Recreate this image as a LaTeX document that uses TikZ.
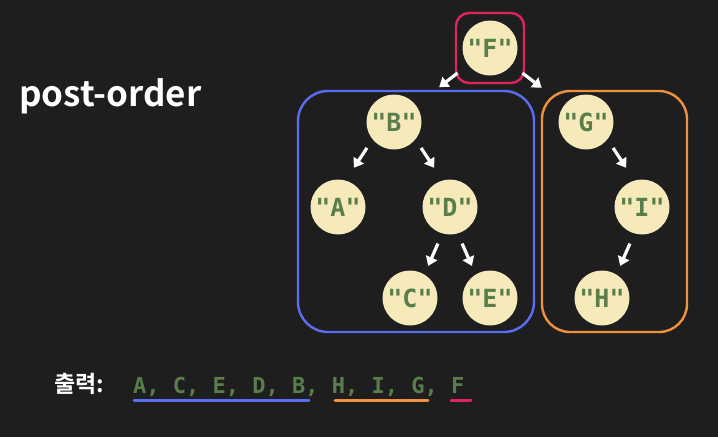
\documentclass[tikz,border=0pt]{standalone}
\usepackage{fontspec}
\usetikzlibrary{arrows.meta}
\newfontfamily\monofnt{DejaVu Sans Mono}
\newfontfamily\krfnt{Noto Sans CJK KR}[BoldFont={Noto Sans CJK KR Bold}]
\definecolor{bgc}{HTML}{1E1E1E}
\definecolor{nodefill}{HTML}{F6EABB}
\definecolor{txtgreen}{HTML}{5A7D4C}
\definecolor{boxblue}{HTML}{5A6EF2}
\definecolor{boxorange}{HTML}{F0913D}
\definecolor{boxred}{HTML}{E1245C}
\begin{document}
\begin{tikzpicture}[x=1pt,y=-1pt,
  treenode/.style={circle, fill=nodefill, minimum size=55pt, inner sep=0pt,
    text=txtgreen, font=\monofnt\bfseries\fontsize{25}{25}\selectfont},
  arr/.style={-{Triangle[length=9pt,width=12pt]}, line width=3.2pt, white},
  grp/.style={line width=2.4pt},
  uline/.style={line width=3pt, line cap=round}]
\fill[bgc] (0,0) rectangle (718,437);
\useasboundingbox (0,0) rectangle (718,437);

% group boxes
\draw[grp, boxred, rounded corners=13pt] (456,13) rectangle (524,83);
\draw[grp, boxblue, rounded corners=30pt] (298,91) rectangle (534,332);
\draw[grp, boxorange, rounded corners=28pt] (542,91) rectangle (687,332);

% nodes
\node[treenode] (F) at (490,48) {"F"};
\node[treenode] (B) at (394,122) {"B"};
\node[treenode] (G) at (586,122) {"G"};
\node[treenode] (A) at (338,207) {"A"};
\node[treenode] (D) at (450,207) {"D"};
\node[treenode] (I) at (642,207) {"I"};
\node[treenode] (C) at (410,298) {"C"};
\node[treenode] (E) at (490,298) {"E"};
\node[treenode] (H) at (602,298) {"H"};

% arrows
\draw[arr, shorten <=41pt, shorten >=57pt] (F.center) -- (B.center);
\draw[arr, shorten <=41pt, shorten >=56pt] (F.center) -- (G.center);
\draw[arr, shorten <=31pt, shorten >=47pt] ([xshift=-10pt]B.center) -- ([xshift=-10pt]A.center);
\draw[arr, shorten <=31pt, shorten >=47pt] ([xshift=10pt]B.center) -- ([xshift=10pt]D.center);
\draw[arr, shorten <=31pt, shorten >=47pt] ([xshift=10pt]G.center) -- ([xshift=10pt]I.center);
\draw[arr, shorten <=40pt, shorten >=35pt] ([xshift=4pt]D.center) -- ([xshift=4pt]C.center);
\draw[arr, shorten <=40pt, shorten >=35pt] ([xshift=-4pt]D.center) -- ([xshift=-4pt]E.center);
\draw[arr, shorten <=40pt, shorten >=35pt] ([xshift=4pt]I.center) -- ([xshift=4pt]H.center);

% title
\node[anchor=base west, inner sep=0pt, text=white, font=\krfnt\bfseries\fontsize{35}{35}\selectfont] (title) at (19,106) {post-order};

% output line
\node[anchor=base west, inner sep=0pt, text=white, font=\krfnt\bfseries\fontsize{23}{23}\selectfont] (outlbl) at (54,392) {출력:};
\node[anchor=base west, inner sep=0pt, text=txtgreen, font=\monofnt\bfseries\fontsize{22}{22}\selectfont] (outtxt) at (133,393) {A, C, E, D, B, H, I, G, F};

\coordinate (u1a) at (134,400); \coordinate (u1b) at (309,400);
\coordinate (u2a) at (335,400); \coordinate (u2b) at (428,400);
\coordinate (u3a) at (451,400); \coordinate (u3b) at (471,400);
\draw[uline, boxblue] (u1a) -- (u1b);
\draw[uline, boxorange] (u2a) -- (u2b);
\draw[uline, boxred] (u3a) -- (u3b);
\end{tikzpicture}
\end{document}
